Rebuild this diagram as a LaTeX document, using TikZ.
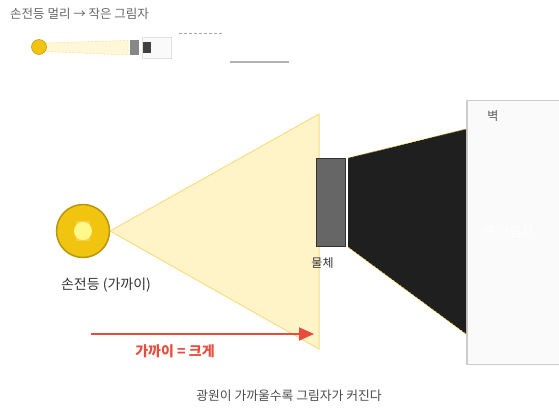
\documentclass[tikz,border=0pt]{standalone}
\usepackage{fontspec}
\setmainfont{Noto Sans CJK KR}
\usepackage{tikz}
\usetikzlibrary{arrows.meta,positioning,calc}
\definecolor{lamp}{HTML}{F1C40F}
\definecolor{lampedge}{HTML}{B8960B}
\definecolor{beam}{HTML}{FFF4C8}
\definecolor{beamedge}{HTML}{F7DD85}
\definecolor{hot}{HTML}{E74C3C}
\tikzset{
  >=Stealth,
  every node/.append style={inner sep=0pt},
}
\tikzset{
  txt/.style={font=\fontsize{#1}{#1}\selectfont},
  wallbox/.style={draw=black!20, line width=1.5pt, fill=black!2},
  thing/.style={draw=black!80, line width=1pt, fill=black!60},
  edge/.style={lamp, dashed, dash pattern=on 2pt off 2pt, line width=0.6pt}
}

\begin{document}
\begin{tikzpicture}[x=1pt, y=-1pt,
  note/.style={txt=12.5, text=black!60},
  cone/.style={fill=beam, draw=beamedge, line width=1pt, line join=round}
]
\useasboundingbox (0,0) rectangle (559,408);

% Inset: lamp far away, small shadow
\node[note, anchor=west] (farttl) at (10,14) {손전등 멀리 → 작은 그림자};
\fill[beam!70, draw=beamedge, dashed, dash pattern=on 2pt off 1.5pt, line width=0.5pt]
  (46,43) -- (128,40.5) -- (128,55) -- (46,51.5) -- cycle;
\node[circle, minimum size=15pt, fill=lamp, draw=lampedge, line width=0.5pt] (farlamp) at (39,47) {};
\node[minimum width=9pt, minimum height=15pt, fill=black!47] (farobj) at (134.5,47.5) {};
\node[minimum width=29pt, minimum height=21pt, fill=black!2, draw=black!12, line width=0.6pt] (farwall) at (156.5,47.5) {};
\node[minimum width=8pt, minimum height=11pt, fill=black!75] (farshade) at (147,47.5) {};
\coordinate (dashL) at (179,33);
\coordinate (dashR) at (223,33);
\draw[black!35, dashed, dash pattern=on 3pt off 2pt, line width=0.6pt] (dashL) -- (dashR);
\coordinate (lineL) at (230,62);
\coordinate (lineR) at (289,62);
\draw[black!30, line width=1.3pt] (lineL) -- (lineR);

% Main scene: near lamp, light cone, object, wall
\coordinate (apex) at (110,231);
\coordinate (coneT) at (319,114);
\coordinate (coneB) at (319,349);
\filldraw[cone] (apex) -- (coneT) -- (coneB) -- cycle;

\node[wallbox, anchor=north west, minimum width=110pt, minimum height=264pt] (wall) at (466,99.5) {};
\node[txt=12, text=black!65] (walllbl) at (493,116) {벽};

\coordinate (shTL) at (348,158);
\coordinate (shTR) at (466,129);
\coordinate (shBR) at (466,334);
\coordinate (shBL) at (348,247);
\fill[black!88] (shTL) -- (shTR) -- (shBR) -- (shBL) -- cycle;
\draw[edge] (shTL) -- (shTR);
\draw[edge] (shBL) -- (shBR);
\node[txt=13, text=white] (shadelbl) at (508,232) {큰 그림자};

\node[thing, minimum width=29pt, minimum height=88pt] (obj) at (330.5,202) {};
\node[txt=12, text=black!80] (objlbl) at (322.5,263) {물체};

\node[circle, minimum size=53pt, fill=lamp, draw=lampedge, line width=1.5pt] (lamp) at (83,231) {};
\fill[lamp!60!white, opacity=0.6] (76,221) rectangle (90,241);
\node[circle, minimum size=18pt, fill=yellow!45!white] (bulb) at (lamp.center) {};
\node[txt=14, text=black!80] (lamplbl) at (106,285) {손전등 (가까이)};

% Closer lamp -> bigger shadow
\coordinate (arrS) at (91,334);
\coordinate (arrE) at (314,334);
\draw[hot, line width=2pt, -{Triangle[length=15pt, width=13pt]}] (arrS) -- (arrE);
\node[text=hot, font=\fontsize{14}{14}\selectfont\bfseries] (arrlbl) at (175,351) {가까이 = 크게};

\node[txt=12.8, text=black!70] (caption) at (289,396) {광원이 가까울수록 그림자가 커진다};

\end{tikzpicture}
\end{document}
